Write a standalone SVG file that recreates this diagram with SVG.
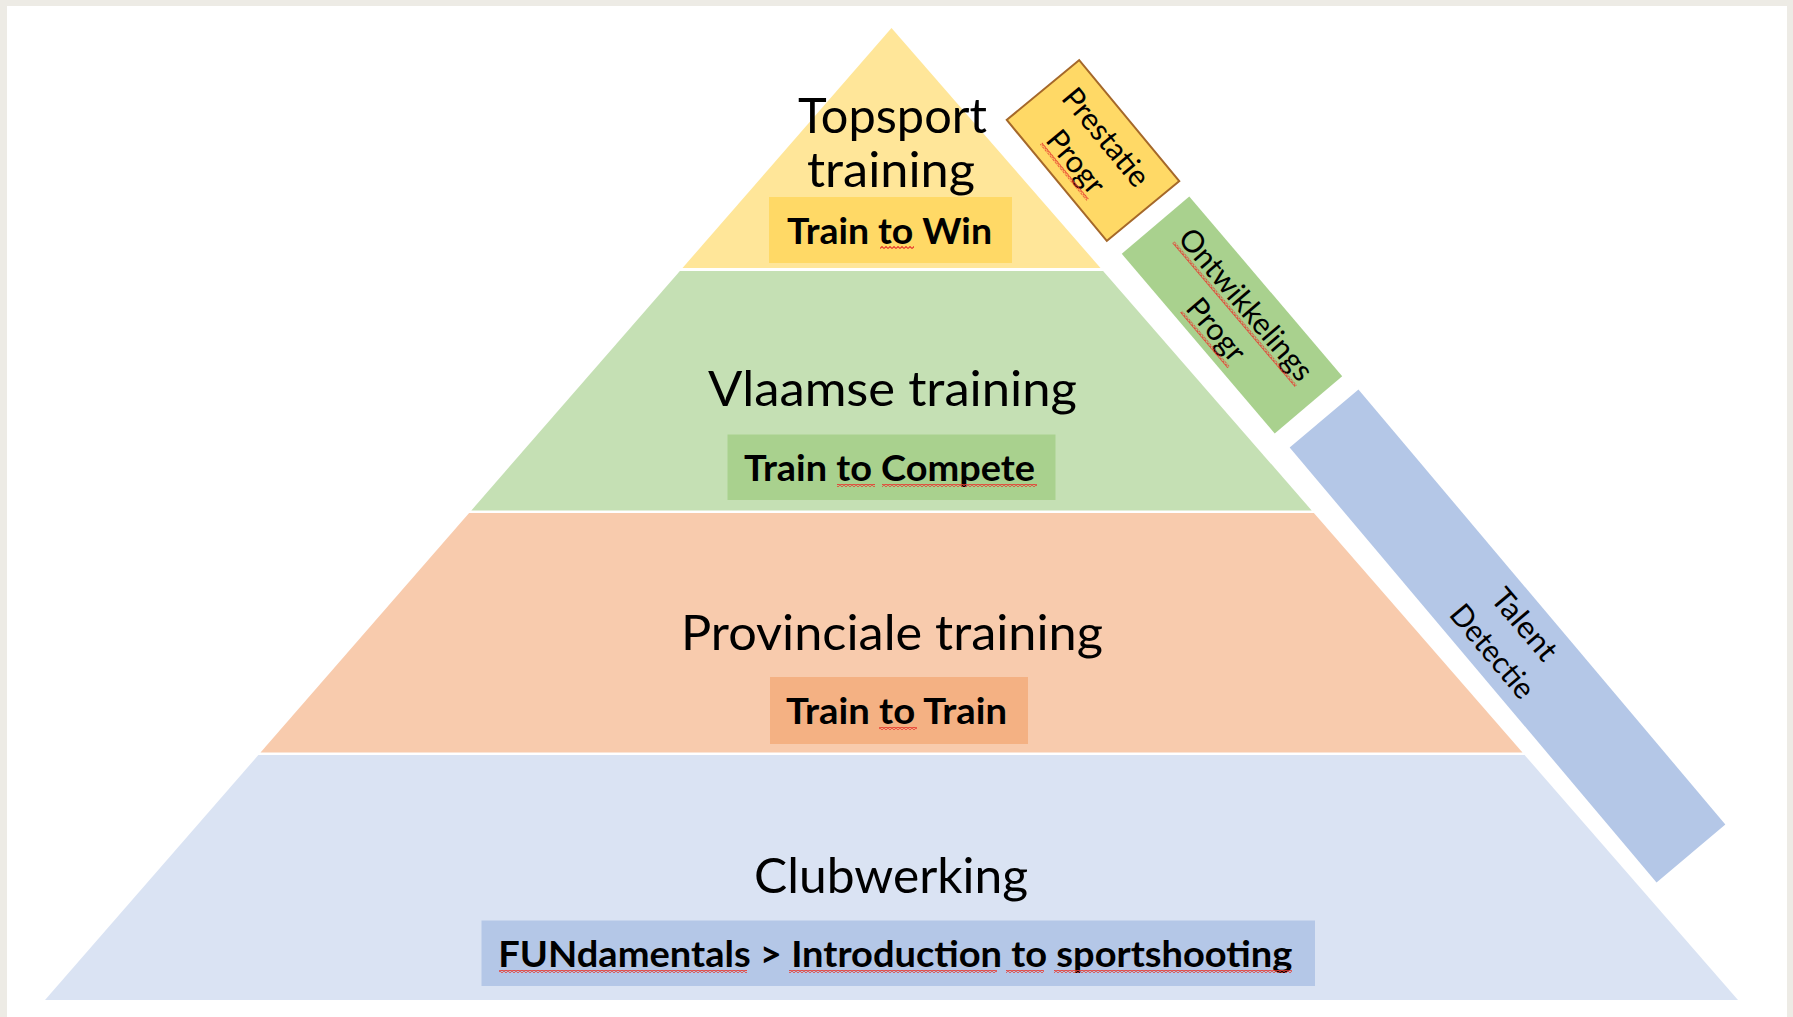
<svg xmlns="http://www.w3.org/2000/svg" width="1793" height="1017" viewBox="0 0 1793 1017">
  <style>
    .title { font-family: Lato, "Open Sans", "Liberation Sans", sans-serif; font-size: 49px; fill: #000; text-anchor: middle; }
    .tag { font-family: Lato, "Open Sans", "Liberation Sans", sans-serif; font-size: 36.5px; font-weight: bold; fill: #000; text-anchor: middle; }
    .side { font-family: Lato, "Open Sans", "Liberation Sans", sans-serif; font-size: 30.5px; fill: #000; text-anchor: middle; }
    .sq { fill: url(#squig); }
  </style>
  <defs>
    <pattern id="squig" patternUnits="userSpaceOnUse" width="4" height="3">
      <path d="M0,2.5 L2,0.5 L4,2.5" fill="none" stroke="#E8392E" stroke-width="1.1"/>
    </pattern>
  </defs>

  <rect x="0" y="0" width="1793" height="1017" fill="#EDEBE5"/>
  <rect x="7" y="6" width="1780" height="1011" fill="#FFFFFF"/>

  <g id="layer-topsport">
    <polygon points="891.5,28 1100.5,268 682.5,268" fill="#FFE699"/>
    <text class="title" x="892.5" y="133" textLength="189" lengthAdjust="spacingAndGlyphs">Topsport</text>
    <text class="title" x="891" y="187" textLength="168" lengthAdjust="spacingAndGlyphs">training</text>
    <rect x="769" y="197" width="243" height="66" fill="#FFD966"/>
    <text class="tag" x="889.5" y="243.5" textLength="205" lengthAdjust="spacingAndGlyphs">Train to Win</text>
    <rect class="sq" x="880" y="246" width="34" height="3"/>
  </g>

  <g id="layer-vlaamse">
    <polygon points="679.9,271 1103.1,271 1311.7,510.5 471.3,510.5" fill="#C5E0B4"/>
    <text class="title" x="892.5" y="406" textLength="369" lengthAdjust="spacingAndGlyphs">Vlaamse training</text>
    <rect x="727.5" y="434.5" width="328" height="65.5" fill="#A9D18E"/>
    <text class="tag" x="889.5" y="481" textLength="291" lengthAdjust="spacingAndGlyphs">Train to Compete</text>
    <rect class="sq" x="837" y="484" width="38" height="3"/>
    <rect class="sq" x="882" y="484" width="155" height="3"/>
  </g>

  <g id="layer-provinciale">
    <polygon points="469.1,513 1313.9,513 1522.5,752.5 260.5,752.5" fill="#F8CBAD"/>
    <text class="title" x="892" y="650" textLength="422" lengthAdjust="spacingAndGlyphs">Provinciale training</text>
    <rect x="770" y="677" width="258" height="67" fill="#F4B183"/>
    <text class="tag" x="896.5" y="724" textLength="221" lengthAdjust="spacingAndGlyphs">Train to Train</text>
    <rect class="sq" x="879" y="727" width="38" height="3"/>
  </g>

  <g id="layer-club">
    <polygon points="258.4,755 1524.6,755 1738,1000 45,1000" fill="#DAE3F3"/>
    <text class="title" x="891" y="893" textLength="274" lengthAdjust="spacingAndGlyphs">Clubwerking</text>
    <rect x="481.5" y="920.5" width="833.5" height="65.5" fill="#B4C7E7"/>
    <text class="tag" x="895.3" y="967" textLength="794" lengthAdjust="spacingAndGlyphs">FUNdamentals &gt; Introduction to sportshooting</text>
    <rect class="sq" x="499" y="970" width="248" height="3"/>
    <rect class="sq" x="789" y="970" width="208" height="3"/>
    <rect class="sq" x="1006" y="970" width="38" height="3"/>
    <rect class="sq" x="1054" y="970" width="238" height="3"/>
  </g>

  <g id="prestatie-progr" transform="translate(1093,150.5) rotate(50.4)">
    <rect x="-78.5" y="-47" width="157" height="94" fill="#FFD966" stroke="#A5682A" stroke-width="2"/>
    <text class="side" x="-2" y="-8" textLength="118" lengthAdjust="spacingAndGlyphs">Prestatie</text>
    <text class="side" x="-2" y="31" textLength="73" lengthAdjust="spacingAndGlyphs">Progr</text>
    <rect class="sq" x="-38.5" y="34" width="73" height="3"/>
  </g>

  <g id="ontwikkelings-progr" transform="translate(1232,315) rotate(49.6)">
    <rect x="-118" y="-44.3" width="236" height="88.6" fill="#A9D18E"/>
    <text class="side" x="1" y="-7" textLength="189" lengthAdjust="spacingAndGlyphs">Ontwikkelings</text>
    <text class="side" x="1" y="32" textLength="73" lengthAdjust="spacingAndGlyphs">Progr</text>
    <rect class="sq" x="-93.5" y="-4" width="189" height="3"/>
    <rect class="sq" x="-35.5" y="35" width="73" height="3"/>
  </g>

  <g id="talent-detectie" transform="translate(1507.5,636) rotate(49.85)">
    <rect x="-284.5" y="-45" width="569" height="90" fill="#B4C7E7"/>
    <text class="side" x="2" y="-10" textLength="84" lengthAdjust="spacingAndGlyphs">Talent</text>
    <text class="side" x="2" y="32" textLength="113" lengthAdjust="spacingAndGlyphs">Detectie</text>
  </g>

  <g id="connectors"/>
</svg>
